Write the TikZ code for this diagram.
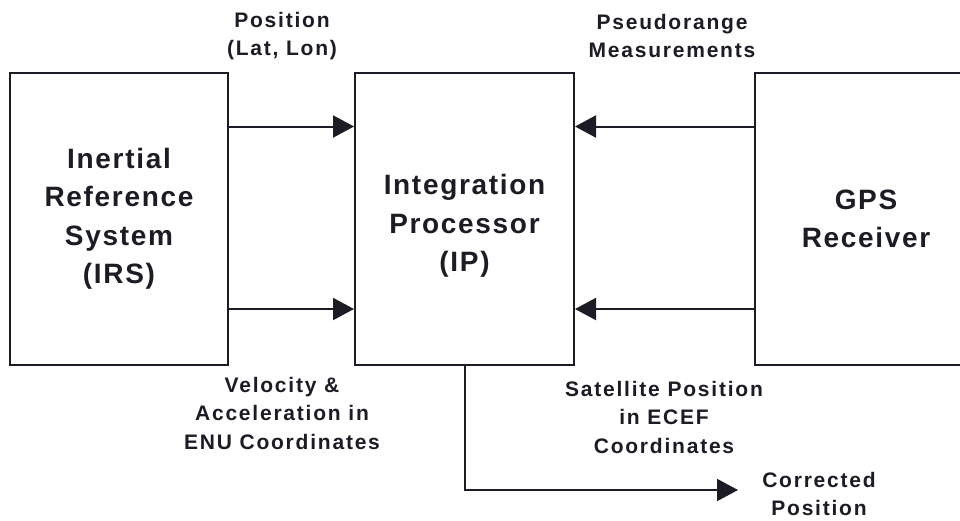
\documentclass[tikz,border=0pt]{standalone}
\usepackage{fontspec}
\setmainfont{Liberation Sans}
\newfontfamily\boxfont{Liberation Sans}[LetterSpace=6]
\newfontfamily\tagfont{Liberation Sans}[LetterSpace=8.5]
\usetikzlibrary{arrows.meta}
\definecolor{ink}{HTML}{1C1C24}
\tikzset{
  block/.style={draw=ink, line width=2pt, inner sep=0pt, align=center,
    minimum height=292pt, text=ink,
    font=\boxfont\bfseries\fontsize{28}{38.5}\selectfont},
  tag/.style={align=center, text=ink, inner sep=0pt,
    font=\tagfont\bfseries\fontsize{21}{28.5}\selectfont},
  flow/.style={draw=ink, line width=2pt, -{Triangle[length=21pt,width=22pt]}},
}
\begin{document}
\begin{tikzpicture}[x=1pt, y=-1pt]
  \useasboundingbox (0,0) rectangle (960,520);
  \clip (0,0) rectangle (960,520);
  \fill[white] (0,0) rectangle (960,520);

  % the three processing units
  \node[block, minimum width=218pt] (irs) at (119,219)
    {Inertial\\Reference\\System\\(IRS)};
  \node[block, minimum width=219pt] (ip) at (464.5,219)
    {\\[-4pt]Integration\\Processor\\(IP)};
  \node[block, minimum width=222pt] (gps) at (866,219)
    {GPS\\Receiver};

  % signal levels
  \coordinate (hi) at (0,126.5);
  \coordinate (lo) at (0,309);
  \coordinate (out) at (738,490);

  % inputs to the integration processor
  \draw[flow] (irs.east |- hi) -- (ip.west |- hi);
  \draw[flow] (irs.east |- lo) -- (ip.west |- lo);
  \draw[flow] (gps.west |- hi) -- (ip.east |- hi);
  \draw[flow] (gps.west |- lo) -- (ip.east |- lo);

  % corrected output
  \draw[flow] (ip.south) -- (ip.south |- out) -- (out);

  % signal labels
  \node[tag] (lpos) at (282,36) {Position\\(Lat, Lon)};
  \node[tag] (lpsr) at (672,36) {Pseudorange\\Measurements};
  \node[tag] (lvel) at (282,413) {Velocity \&\\Acceleration in\\ENU Coordinates};
  \node[tag] (lsat) at (664,417) {Satellite Position\\in ECEF\\Coordinates};
  \node[tag] (lcor) at (819,494) {Corrected\\Position};
\end{tikzpicture}
\end{document}
